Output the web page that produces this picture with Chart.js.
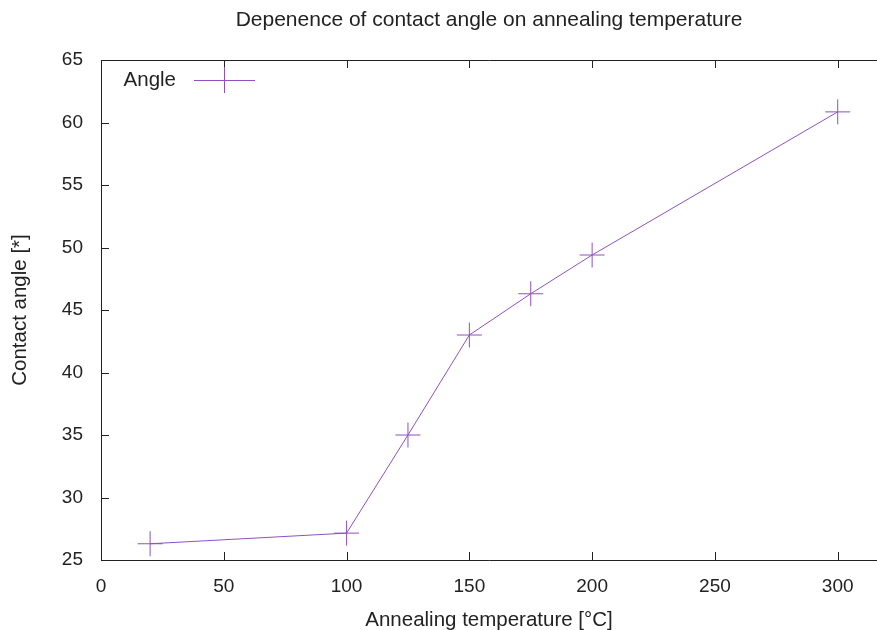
<!DOCTYPE html>
<html>
<head>
<meta charset="utf-8">
<script src="https://cdn.jsdelivr.net/npm/chart.js@4"></script>
<style>
  html, body { margin: 0; padding: 0; background: #fff; overflow: hidden; }
  #wrap { width: 877px; height: 630px; }
</style>
</head>
<body>
<div id="wrap"><canvas id="angleChart"></canvas></div>
<script>
// данные
const temps = [20, 100, 125, 150, 175, 200, 300];
const angles = [26.3, 27.15, 35.0, 43.0, 46.3, 49.4, 60.85];
const xTicks = [0, 50, 100, 150, 200, 250, 300];
const yTicks = [25, 30, 35, 40, 45, 50, 55, 60, 65];

const lineColor = '#9050c0';
const inkColor = '#222';
const fontFamily = "'Liberation Sans', Arial, sans-serif";

Chart.defaults.font.family = fontFamily;
Chart.defaults.font.size = 19;
Chart.defaults.color = inkColor;

// рамка, внутренние риски, заголовок и легенда в стиле gnuplot
const gnuplotFrame = {
  id: 'gnuplotFrame',
  afterDraw(chart) {
    const { ctx, chartArea: a, scales: { x, y } } = chart;
    ctx.save();
    ctx.strokeStyle = inkColor;
    ctx.lineWidth = 1;
    ctx.beginPath();
    ctx.moveTo(a.right + 5, a.top + 0.5);
    ctx.lineTo(a.left + 0.5, a.top + 0.5);
    ctx.lineTo(a.left + 0.5, a.bottom + 0.5);
    ctx.lineTo(a.right + 5, a.bottom + 0.5);
    xTicks.forEach(v => {
      const px = Math.round(x.getPixelForValue(v)) + 0.5;
      ctx.moveTo(px, a.bottom);
      ctx.lineTo(px, a.bottom - 8);
      ctx.moveTo(px, a.top);
      ctx.lineTo(px, a.top + 8);
    });
    yTicks.forEach(v => {
      const py = Math.round(y.getPixelForValue(v)) + 0.5;
      ctx.moveTo(a.left, py);
      ctx.lineTo(a.left + 8, py);
    });
    ctx.stroke();

    // заголовок
    ctx.fillStyle = inkColor;
    ctx.font = '21px ' + fontFamily;
    ctx.textAlign = 'center';
    ctx.textBaseline = 'middle';
    ctx.fillText('Depenence of contact angle on annealing temperature', (a.left + a.right) / 2, 20);

    // легенда
    ctx.textAlign = 'right';
    ctx.font = '20.5px ' + fontFamily;
    ctx.fillText('Angle', 176, 80);
    ctx.strokeStyle = lineColor;
    ctx.beginPath();
    ctx.moveTo(194, 80.5);
    ctx.lineTo(255, 80.5);
    ctx.moveTo(224.5, 67);
    ctx.lineTo(224.5, 93);
    ctx.stroke();
    ctx.restore();
  }
};

new Chart(document.getElementById('angleChart'), {
  type: 'line',
  data: {
    datasets: [{
      label: 'Angle',
      data: temps.map((t, i) => ({ x: t, y: angles[i] })),
      borderColor: lineColor,
      borderWidth: 1,
      pointStyle: 'cross',
      pointRadius: 12.5,
      pointBorderWidth: 1,
      pointBorderColor: lineColor,
      pointHoverRadius: 12.5,
      fill: false,
      tension: 0
    }]
  },
  options: {
    responsive: true,
    maintainAspectRatio: false,
    animation: false,
    layout: { autoPadding: false, padding: { top: 60, right: 0, left: 0, bottom: 0 } },
    plugins: {
      legend: { display: false },
      title: { display: false },
      tooltip: { enabled: false }
    },
    scales: {
      x: {
        type: 'linear',
        min: 0,
        max: 316,
        afterBuildTicks: s => { s.ticks = xTicks.map(v => ({ value: v })); },
        afterFit: s => { s.height = 70; s.paddingLeft = 0; s.paddingRight = 0; },
        grid: { display: false, drawTicks: false },
        border: { display: false },
        ticks: { padding: 15, maxRotation: 0, color: inkColor },
        title: {
          display: true, text: 'Annealing temperature [°C]',
          font: { size: 20.5 }, padding: { top: 0, bottom: -3 }, color: inkColor
        }
      },
      y: {
        min: 25,
        max: 65,
        afterBuildTicks: s => { s.ticks = yTicks.map(v => ({ value: v })); },
        afterFit: s => { s.width = 101; },
        grid: { display: false, drawTicks: false },
        border: { display: false },
        ticks: { padding: 18, color: inkColor },
        title: {
          display: true, text: 'Contact angle [*]',
          font: { size: 20.5 }, padding: { top: 8, bottom: 0 }, color: inkColor
        }
      }
    }
  },
  plugins: [gnuplotFrame]
});
</script>
</body>
</html>
